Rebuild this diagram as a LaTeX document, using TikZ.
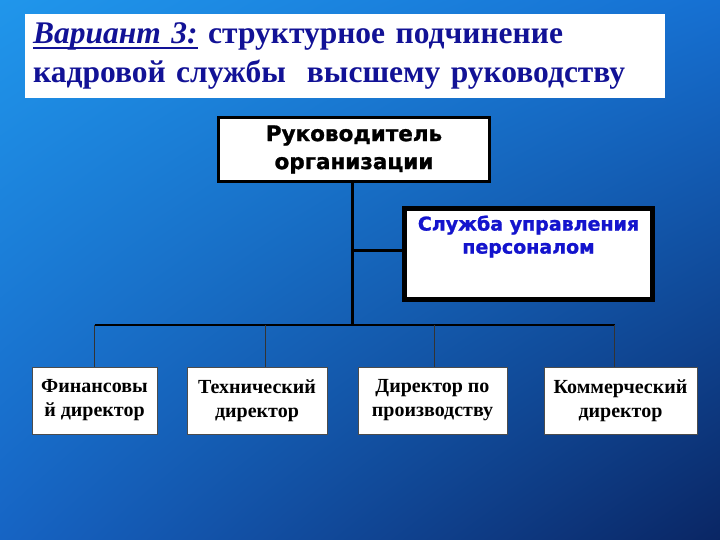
\documentclass[tikz,border=0pt]{standalone}
\usepackage{fontspec}
\setmainfont{Liberation Serif}
\newfontfamily\verdfont[BoldFeatures={FakeBold=1.2}]{DejaVu Sans}
\usetikzlibrary{shadings}
\newcommand{\thickul}[1]{\setbox0\hbox{#1}\rlap{\rule[-5pt]{\wd0}{1.6pt}}\box0\relax}
\definecolor{bgul}{RGB}{32,150,235}
\definecolor{bgur}{RGB}{22,112,210}
\definecolor{bgll}{RGB}{22,100,196}
\definecolor{bglr}{RGB}{10,38,100}
\definecolor{titleblue}{RGB}{18,18,150}
\definecolor{hrblue}{RGB}{20,20,205}

\begin{document}
\begin{tikzpicture}[x=1pt,y=-1pt,
    titlebox/.style={fill=white,anchor=north west,minimum width=640pt,minimum height=84pt,
      text width=624pt,align=left,inner sep=0pt,text=titleblue,
      font=\bfseries\fontsize{31.5}{39}\selectfont},
    bossbox/.style={draw=black,line width=3pt,fill=white,minimum width=271pt,minimum height=64pt,
      align=center,font=\verdfont\bfseries\fontsize{21.5}{28}\selectfont},
    hrbox/.style={draw=black,line width=5pt,fill=white,minimum width=248pt,minimum height=91pt},
    dirbox/.style={draw=black!70,line width=0.8pt,fill=white,minimum height=67pt,
      align=center,font=\bfseries\fontsize{20}{24}\selectfont}]
      \useasboundingbox (0,0) rectangle (720,540);
      \shade[upper left=bgul,upper right=bgur,lower left=bgll,lower right=bglr] (0,0) rectangle (720,540);
      % title
      \node[titlebox] (title) at (25,14) {\thickul{\textit{Вариант 3:}} структурное подчинение\\кадровой службы\ \ высшему руководству};
      % boxes
      \node[bossbox] (boss) at (354,149.5) {Руководитель\\организации};
      \node[hrbox] (hr) at (528.5,254) {};
      \node[anchor=north,align=center,text=hrblue,font=\verdfont\bfseries\fontsize{19}{23}\selectfont]
        at ([yshift=-6pt]hr.north) {Служба управления\\персоналом};
      \node[dirbox,minimum width=125pt] (f1) at (94.5,400.5) {Финансовы\\й директор};
      \node[dirbox,minimum width=140pt] (f2) at (257,400.5) {Технический\\директор};
      \node[dirbox,minimum width=149pt] (f3) at (432.5,400.5) {Директор по\\производству};
      \node[dirbox,minimum width=153pt] (f4) at (620.5,400.5) {Коммерческий\\директор};
      % lines
      \coordinate (bus) at (351,325);
      \draw[line width=3pt] ([xshift=-2pt]boss.south) -- ([xshift=-2pt]boss.south |- bus);
      \draw[line width=3pt] ([xshift=-2pt,yshift=4pt]boss.south |- hr.west) -- ([yshift=4pt]hr.west);
      \draw[line width=1.3pt] (f1.north |- bus) -- ([xshift=-6pt]f4.north |- bus);
      \foreach \d/\s in {f1/0,f2/8,f3/2,f4/-6}
        \draw[line width=1pt,black!80] ([xshift=\s pt]\d.north |- bus) -- ([xshift=\s pt]\d.north);
\end{tikzpicture}
\end{document}
